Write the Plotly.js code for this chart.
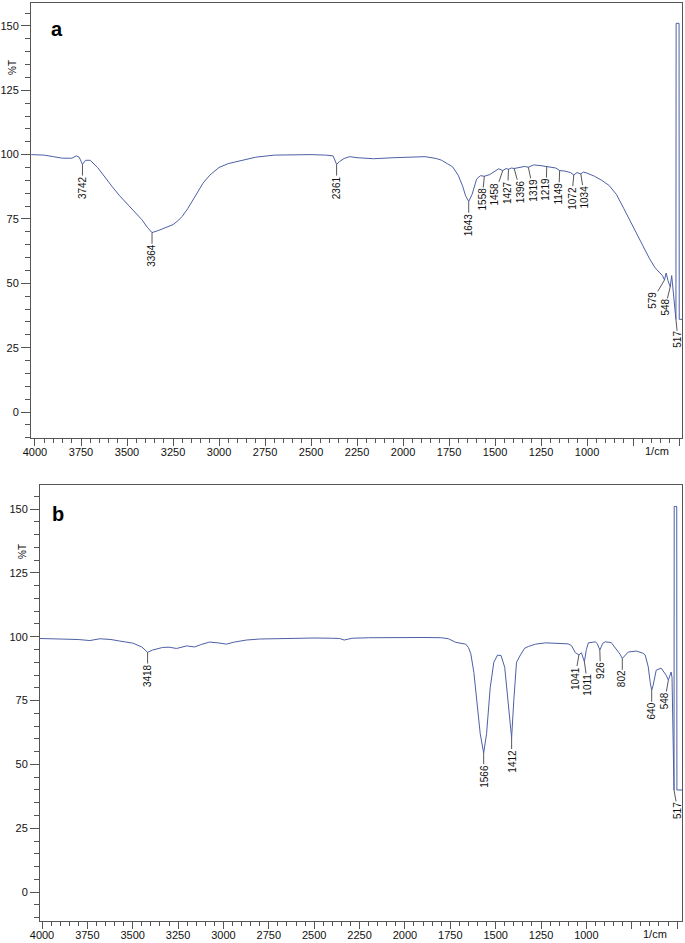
<!DOCTYPE html>
<html>
<head>
<meta charset="utf-8">
<script src="https://cdn.plot.ly/plotly-3.0.1.min.js"></script>
<style>
  html, body { margin: 0; padding: 0; background: #fff; }
  #chart { width: 685px; height: 943px; }
</style>
</head>
<body>
<div id="chart"></div>
<script>
// ---------- DATA ----------
// Panel a : wavenumber (1/cm) and %T
const wnA = [4020, 3950, 3900, 3850, 3800, 3775, 3760, 3742, 3725, 3700, 3660, 3620, 3580, 3540, 3500, 3460, 3420, 3390, 3364,
  3330, 3290, 3250, 3220, 3200, 3170, 3140, 3110, 3087, 3050, 3000, 2950, 2900, 2850, 2800, 2700, 2600, 2500, 2420, 2380,
  2361, 2345, 2320, 2290, 2250, 2160, 2050, 1950, 1880, 1820, 1790, 1760, 1730, 1700, 1675, 1660, 1643, 1625, 1600, 1580,
  1558, 1530, 1500, 1480, 1458, 1440, 1427, 1410, 1396, 1370, 1340, 1319, 1290, 1250, 1219, 1190, 1170, 1149, 1120, 1090,
  1072, 1055, 1034, 1020, 1000, 960, 920, 880, 840, 800, 760, 720, 690, 660, 630, 600, 590, 579, 570, 560, 548, 540, 530,
  522, 517, 516, 500, 499, 484];
const tA = [100, 99.8, 99.2, 98.6, 98.6, 99.5, 99, 96.2, 97.8, 97.8, 95, 91, 87.5, 84, 81, 78, 74.8, 71.8, 69.7,
  70.5, 71.5, 72.8, 74.5, 76, 79, 82.5, 86, 88.9, 92, 95, 96.5, 97.3, 98.3, 99, 99.8, 100, 100, 99.8, 99.5,
  96.2, 97.3, 98.5, 99.2, 98.8, 98.4, 98.8, 99.2, 99.2, 98.5, 97.8, 96.5, 95.2, 92, 87.5, 84, 81.8, 84.5, 90.5, 91.8,
  91.6, 92.2, 93.5, 94.5, 93.8, 94.6, 94.3, 94.8, 94.6, 94.9, 95.4, 95.1, 96, 95.7, 95.4, 95.2, 94.8, 93.8, 93.6, 93,
  92.1, 93, 92.5, 93.2, 92.8, 91.6, 90, 88, 84.5, 79, 73.5, 68, 63.5, 59.5, 56, 53.5, 53, 51.3, 54, 51, 48.6, 53, 45,
  38, 36, 151, 151, 36, 36];
const peaksA = [3742, 3364, 2361, 1643, 1558, 1458, 1427, 1396, 1319, 1219, 1149, 1072, 1034, 579, 548, 517];

// Panel b
const wnB = [4011, 3995, 3900, 3800, 3736, 3681, 3620, 3571, 3500, 3450, 3418, 3390, 3335, 3300, 3258, 3203, 3159, 3120, 3077,
  3030, 2984, 2940, 2874, 2800, 2709, 2600, 2500, 2400, 2360, 2335, 2291, 2200, 2100, 2000, 1900, 1800, 1760, 1720, 1703,
  1680, 1665, 1650, 1637, 1620, 1600, 1585, 1566, 1550, 1530, 1510, 1490, 1470, 1450, 1430, 1412, 1400, 1385, 1363, 1340,
  1319, 1280, 1225, 1150, 1100, 1082, 1060, 1041, 1027, 1011, 1000, 989, 951, 940, 926, 910, 896, 863, 835, 815, 802,
  785, 769, 725, 690, 676, 659, 648, 640, 632, 615, 588, 560, 548, 533, 528, 524, 520, 517, 516, 502, 501, 473];
const tB = [99.3, 99.3, 99.1, 98.9, 98.5, 99.2, 98.9, 98.3, 97.5, 96, 93.9, 94.8, 95.8, 95.9, 95.4, 96.4, 96, 97, 97.9,
  97.6, 97.1, 97.9, 98.7, 99.1, 99.3, 99.4, 99.5, 99.4, 99.3, 98.7, 99.4, 99.6, 99.7, 99.7, 99.7, 99.6, 99.2, 97.8, 97.6,
  97.3, 97.1, 95.8, 93.4, 86, 72, 62, 54.5, 62, 80, 90, 92.8, 92.6, 88, 74, 60.4, 75, 90, 92.9, 95.5,
  96.2, 97.1, 97.6, 97.5, 97.2, 96.5, 93.7, 92.9, 93.7, 90.2, 95, 97.6, 98, 97.3, 94.8, 97.4, 98, 97.7, 95.2, 93.2, 91.5,
  93, 94, 94.4, 93.6, 92.9, 88.2, 82, 79, 81, 86.9, 87.7, 84.9, 83, 86.2, 84, 70, 52, 40, 151, 151, 40, 40];
const peaksB = [3418, 1566, 1412, 1041, 1011, 926, 802, 640, 548, 517];

// Axis tick values and labels
const xTickVals = [4000, 3750, 3500, 3250, 3000, 2750, 2500, 2250, 2000, 1750, 1500, 1250, 1000, 750, 500];
const xTickText = ['4000', '3750', '3500', '3250', '3000', '2750', '2500', '2250', '2000', '1750', '1500', '1250', '1000', '', ''];
const yTickVals = [0, 25, 50, 75, 100, 125, 150];
const panelNames = ['a', 'b'];
const yTitle = '%T';
const xUnit = '1/cm';

// ---------- LAYOUT GEOMETRY ----------
const W = 685, H = 943;
const panels = [
  {wn: wnA, t: tA, peaks: peaksA, px: [31, 682], py: [3, 438], xr: [4021.7, 484], yr: [-10.1, 158.9],
   xa: 'xaxis', ya: 'yaxis', xref: 'x', yref: 'y', letterPos: [57, 29], titlePos: [12, 68]},
  {wn: wnB, t: tB, peaks: peaksB, px: [40, 682], py: [485, 921], xr: [4011, 473], yr: [-11.3, 159.4],
   xa: 'xaxis2', ya: 'yaxis2', xref: 'x2', yref: 'y2', letterPos: [58, 514], titlePos: [22, 552]}
];

const lineColor = '#4d60a6';
const axisColor = '#555';
const fontFam = 'Arial, "Liberation Sans", sans-serif';

function lookup(wn, t, p) {
  const i = wn.indexOf(p);
  if (i >= 0) return t[i];
  for (let k = 0; k < wn.length - 1; k++) {
    if ((wn[k] - p) * (wn[k + 1] - p) <= 0) {
      const f = (p - wn[k]) / (wn[k + 1] - wn[k]);
      return t[k] + f * (t[k + 1] - t[k]);
    }
  }
  return t[t.length - 1];
}

// spread label positions (px) so they are at least `sep` apart and not beyond maxPx
function spread(pxs, sep, maxPx) {
  let clusters = pxs.map((p, i) => ({idx: [i], mean: p}));
  const fit = c => {
    const lim = maxPx - (c.idx.length - 1) / 2 * sep;
    if (c.mean > lim) c.mean = lim;
  };
  clusters.forEach(fit);
  let changed = true;
  while (changed) {
    changed = false;
    for (let i = 0; i < clusters.length - 1; i++) {
      const a = clusters[i], b = clusters[i + 1];
      const aEnd = a.mean + (a.idx.length - 1) / 2 * sep;
      const bStart = b.mean - (b.idx.length - 1) / 2 * sep;
      if (bStart - aEnd < sep - 1e-6) {
        const idx = a.idx.concat(b.idx);
        const na = a.idx.length, nb = b.idx.length;
        const mean = (a.mean * na + b.mean * nb) / (na + nb);
        const c = {idx, mean};
        fit(c);
        clusters.splice(i, 2, c);
        changed = true;
        break;
      }
    }
  }
  const out = new Array(pxs.length);
  clusters.forEach(c => c.idx.forEach((j, k) => { out[j] = c.mean + (k - (c.idx.length - 1) / 2) * sep; }));
  return out;
}

const traces = [];
const annotations = [];
const layout = {
  width: W, height: H,
  margin: {l: 0, r: 0, t: 0, b: 0},
  paper_bgcolor: '#fff', plot_bgcolor: '#fff',
  showlegend: false,
  font: {family: fontFam, size: 11, color: '#111'}
};

panels.forEach((P, pi) => {
  traces.push({
    x: P.wn, y: P.t, type: 'scatter', mode: 'lines',
    xaxis: P.xref, yaxis: P.yref,
    line: {color: lineColor, width: 1},
    hoverinfo: 'skip'
  });
  layout[P.xa] = {
    domain: [P.px[0] / W, P.px[1] / W],
    range: P.xr, anchor: P.yref,
    tickmode: 'array', tickvals: xTickVals, ticktext: xTickText,
    ticks: 'outside', ticklen: 7, tickwidth: 1, tickcolor: axisColor,
    ticklabelstandoff: -3,
    minor: {dtick: 50, ticks: 'outside', ticklen: 4, tickcolor: axisColor, showgrid: false},
    showline: true, mirror: true, linecolor: axisColor, linewidth: 1,
    showgrid: false, zeroline: false,
    tickfont: {family: fontFam, size: 11, color: '#111'}
  };
  layout[P.ya] = {
    domain: [1 - P.py[1] / H, 1 - P.py[0] / H],
    range: P.yr, anchor: P.xref,
    tickmode: 'array', tickvals: yTickVals,
    ticks: 'outside', ticklen: 9, tickwidth: 1, tickcolor: axisColor,
    minor: {dtick: 5, ticks: 'outside', ticklen: 5, tickcolor: axisColor, showgrid: false},
    showline: true, mirror: true, linecolor: axisColor, linewidth: 1,
    showgrid: false, zeroline: false,
    tickfont: {family: fontFam, size: 11, color: '#111'}
  };

  // panel letter
  annotations.push({
    xref: 'paper', yref: 'paper', x: P.letterPos[0] / W, y: 1 - P.letterPos[1] / H,
    text: '<b>' + panelNames[pi] + '</b>', showarrow: false,
    font: {family: fontFam, size: 20, color: '#000'}, xanchor: 'center', yanchor: 'middle'
  });
  // y title
  annotations.push({
    xref: 'paper', yref: 'paper', x: P.titlePos[0] / W, y: 1 - P.titlePos[1] / H,
    text: yTitle, showarrow: false, textangle: -90,
    font: {family: fontFam, size: 10, color: '#111'}, xanchor: 'center', yanchor: 'middle'
  });
  // unit label
  const pxPerWn = (P.px[1] - P.px[0]) / (P.xr[0] - P.xr[1]);
  annotations.push({
    xref: P.xref, yref: 'paper', x: 620, y: 1 - (P.py[1] + 13) / H,
    text: xUnit, showarrow: false, font: {family: fontFam, size: 11, color: '#111'},
    xanchor: 'center', yanchor: 'middle'
  });

  // peak labels
  const sorted = P.peaks.slice().sort((a, b) => b - a);
  const peakPx = sorted.map(p => P.px[0] + (P.xr[0] - p) * pxPerWn);
  const labPx = spread(peakPx, 12.8, W - 7);
  const leader = 12;
  sorted.forEach((p, i) => {
    const txt = String(p);
    const len = txt.length * 5.6;
    annotations.push({
      xref: P.xref, yref: P.yref, x: p, y: lookup(P.wn, P.t, p),
      text: txt, textangle: -90, showarrow: true, arrowhead: 0, arrowwidth: 0.9,
      arrowcolor: '#444', standoff: 0, borderpad: 0,
      ax: labPx[i] - peakPx[i], ay: leader + len / 2,
      font: {family: fontFam, size: 10, color: '#111'}
    });
  });
});

layout.annotations = annotations;
Plotly.newPlot('chart', traces, layout, {displayModeBar: false, staticPlot: true});
</script>
</body>
</html>
